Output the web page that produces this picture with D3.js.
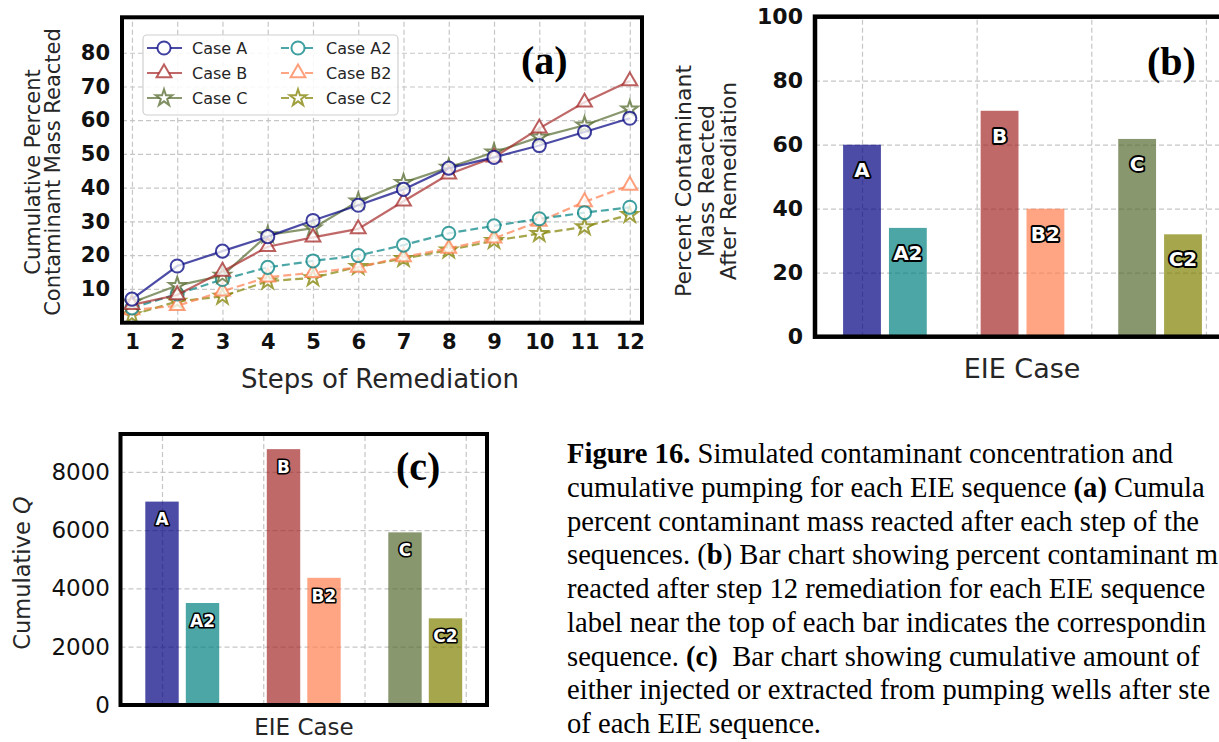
<!DOCTYPE html>
<html>
<head>
<meta charset="UTF-8">
<title>Figure 16</title>
<script src="https://d3js.org/d3.v7.min.js"></script>
<style>
  body { margin: 0; background: #fff; }
  svg { display: block; }
  .grid line { stroke: #c6c6c6; stroke-dasharray: 5,3; stroke-width: 1.2; }
  .lbl { font-family: "DejaVu Sans", sans-serif; fill: #262626; }
  .tag { font-family: "Liberation Serif", "Times New Roman", serif; font-weight: bold; fill: #000; }
  .caption { font-family: "Liberation Serif", "Times New Roman", serif; font-size: 28.6px; fill: #000; white-space: pre; }
  .barlbl { font-family: "DejaVu Sans", sans-serif; font-weight: bold; fill: #fff; stroke: #000; paint-order: stroke; stroke-linejoin: round; }
</style>
</head>
<body>
<script>

// ---- data, panel (a)
var steps = [1, 2, 3, 4, 5, 6, 7, 8, 9, 10, 11, 12];
var caseA  = [7.0, 16.8, 21.2, 25.5, 30.3, 34.8, 39.5, 45.8, 49.0, 52.5, 56.5, 60.6];
var caseB  = [5.3, 8.2, 15.2, 22.5, 25.3, 27.8, 36.0, 44.0, 49.0, 57.6, 65.3, 71.6];
var caseC  = [6.0, 11.0, 14.0, 26.0, 28.0, 36.0, 41.5, 46.0, 50.5, 55.0, 58.5, 63.3];
var caseA2 = [4.4, 8.5, 12.8, 16.4, 18.3, 19.9, 23.0, 26.5, 28.7, 30.8, 32.6, 34.2];
var caseB2 = [3.8, 5.0, 9.3, 13.5, 14.8, 16.4, 19.5, 22.0, 25.0, 30.0, 35.8, 40.7];
var caseC2 = [2.3, 6.3, 7.8, 12.3, 13.3, 16.6, 19.0, 21.5, 24.3, 26.4, 28.4, 32.0];
var seriesNames = ['Case A', 'Case B', 'Case C', 'Case A2', 'Case B2', 'Case C2'];
var yTicksA = [10, 20, 30, 40, 50, 60, 70, 80];

// ---- data, panels (b) and (c)
var barCases = ['A', 'A2', 'B', 'B2', 'C', 'C2'];
var barPos = [0, 0.4, 1.2, 1.6, 2.4, 2.8];
var percentReacted = [60, 34, 70.6, 40, 61.8, 32];
var cumulativeQ = [6980, 3500, 8780, 4365, 5925, 2975];
var yTicksB = [0, 20, 40, 60, 80, 100];
var yTicksC = [0, 2000, 4000, 6000, 8000];
var gridX = [0, 1, 2, 3];

// style per case
var colors = ['#000080', '#a52a2a', '#556b2f', '#008080', '#ff7f50', '#808000'];
var markers = [d3.symbolCircle, d3.symbolTriangle, d3.symbolStar, d3.symbolCircle, d3.symbolTriangle, d3.symbolStar];
var markerSize = [135, 95, 85, 135, 95, 85];
var barColors = ['#000080', '#008080', '#a52a2a', '#ff7f50', '#556b2f', '#808000'];

var fig = d3.select('body').append('svg').attr('width', 1219).attr('height', 742);

function drawGrid(g, x, y, xVals, yVals, box) {
  g.append('g').attr('class', 'grid').attr('transform', `translate(0,${box.bottom})`)
    .call(d3.axisBottom(x).tickValues(xVals).tickSize(-(box.bottom - box.top)).tickFormat(''))
    .call(s => s.select('.domain').remove());
  g.append('g').attr('class', 'grid').attr('transform', `translate(${box.left},0)`)
    .call(d3.axisLeft(y).tickValues(yVals).tickSize(-(box.right - box.left)).tickFormat(''))
    .call(s => s.select('.domain').remove());
}

function tickLabels(g, axis, transform, size, weight) {
  var a = g.append('g').attr('transform', transform).call(axis);
  a.select('.domain').remove();
  a.selectAll('.tick line').remove();
  a.attr('font-family', '"DejaVu Sans", sans-serif').attr('font-size', size).attr('font-weight', weight);
  a.selectAll('text').attr('fill', '#111');
}

function frame(g, box, w) {
  g.append('rect')
    .attr('x', box.left).attr('y', box.top)
    .attr('width', box.right - box.left).attr('height', box.bottom - box.top)
    .attr('fill', 'none').attr('stroke', '#000').attr('stroke-width', w);
}

function rotLabel(g, txt, cx, cy, size) {
  return g.append('text').attr('class', 'lbl')
    .attr('transform', `translate(${cx},${cy}) rotate(-90)`)
    .attr('text-anchor', 'middle').attr('dy', '0.35em')
    .attr('font-size', size).text(txt);
}

// ================= panel (a) =================
var boxA = { left: 122, right: 642, top: 17.3, bottom: 322.7 };
var xA = d3.scaleLinear().domain([0.78, 12.27]).range([boxA.left, boxA.right]);
var yA = d3.scaleLinear().domain([0, 90.5]).range([boxA.bottom, boxA.top]);
var gA = fig.append('g');

drawGrid(gA, xA, yA, steps, yTicksA, boxA);

var allSeries = [caseA, caseB, caseC, caseA2, caseB2, caseC2];
var line = d3.line().x((d, i) => xA(steps[i])).y(d => yA(d));

// dashed ones first, case A ends on top
[5, 4, 3, 2, 1, 0].forEach(k => {
  var s = gA.append('g');
  s.append('path')
    .attr('d', line(allSeries[k]))
    .attr('fill', 'none')
    .attr('stroke', colors[k]).attr('stroke-opacity', 0.7)
    .attr('stroke-width', 2.2)
    .attr('stroke-dasharray', k > 2 ? '8,4' : null);
  s.selectAll('path.m')
    .data(allSeries[k])
    .join('path')
    .attr('class', 'm')
    .attr('transform', (d, i) => `translate(${xA(steps[i])},${yA(d)})`)
    .attr('d', d3.symbol().type(markers[k]).size(markerSize[k]))
    .attr('fill', '#fff').attr('fill-opacity', 0.75)
    .attr('stroke', colors[k]).attr('stroke-opacity', 0.75)
    .attr('stroke-width', 2);
});

tickLabels(gA, d3.axisBottom(xA).tickValues(steps).tickSize(0).tickPadding(11),
  `translate(0,${boxA.bottom})`, 21, 'bold');
tickLabels(gA, d3.axisLeft(yA).tickValues(yTicksA).tickSize(0).tickPadding(12),
  `translate(${boxA.left},0)`, 21, 'bold');

// legend
var leg = gA.append('g');
leg.append('rect').attr('x', 143).attr('y', 35).attr('width', 255).attr('height', 80)
  .attr('rx', 4).attr('fill', '#fff').attr('fill-opacity', 0.85)
  .attr('stroke', '#d0d0d0').attr('stroke-width', 1.2);
var legRows = [48, 73, 98];
var legCols = [147, 281];
seriesNames.forEach((name, k) => {
  var lx = legCols[Math.floor(k / 3)], ly = legRows[k % 3];
  leg.append('line').attr('x1', lx).attr('x2', lx + 35).attr('y1', ly).attr('y2', ly)
    .attr('stroke', colors[k]).attr('stroke-opacity', 0.7).attr('stroke-width', 2.2)
    .attr('stroke-dasharray', k > 2 ? '8,4' : null);
  leg.append('path')
    .attr('transform', `translate(${lx + 17},${ly})`)
    .attr('d', d3.symbol().type(markers[k]).size(markerSize[k]))
    .attr('fill', '#fff').attr('stroke', colors[k]).attr('stroke-opacity', 0.75).attr('stroke-width', 2);
  leg.append('text').attr('class', 'lbl').attr('x', lx + 45).attr('y', ly).attr('dy', '0.36em')
    .attr('font-size', 16).attr('fill', '#3a3a3a').text(name);
});

frame(gA, boxA, 4);
gA.append('text').attr('class', 'tag').attr('x', 521).attr('y', 74).attr('font-size', 40).text('(a)');
gA.append('text').attr('class', 'lbl').attr('x', 380).attr('y', 388).attr('text-anchor', 'middle')
  .attr('font-size', 26).text('Steps of Remediation');
rotLabel(gA, 'Cumulative Percent', 33, 172, 21);
rotLabel(gA, 'Contaminant Mass Reacted', 53, 172, 21);

// ================= bar panels =================
function barPanel(box, yDomain, yTicks, values, labelOffset, opts) {
  var g = fig.append('g');
  var x = d3.scaleLinear().domain([-0.41, 3.21]).range([box.left, box.right]);
  var y = d3.scaleLinear().domain(yDomain).range([box.bottom, box.top]);
  drawGrid(g, x, y, gridX, yTicks.filter(v => v > yDomain[0]), box);
  var bw = 0.33;
  g.selectAll('rect.bar')
    .data(values)
    .join('rect')
    .attr('class', 'bar')
    .attr('x', (d, i) => x(barPos[i] - bw / 2))
    .attr('width', x(bw) - x(0))
    .attr('y', d => y(d))
    .attr('height', d => y(0) - y(d))
    .attr('fill', (d, i) => barColors[i]).attr('fill-opacity', 0.7);
  g.selectAll('text.barlbl')
    .data(values)
    .join('text')
    .attr('class', 'barlbl')
    .attr('x', (d, i) => x(barPos[i]))
    .attr('y', d => y(d - labelOffset))
    .attr('dy', '0.36em')
    .attr('text-anchor', 'middle')
    .attr('font-size', opts.barFont)
    .attr('stroke-width', opts.barStroke)
    .text((d, i) => barCases[i]);
  tickLabels(g, d3.axisLeft(y).tickValues(yTicks).tickFormat(d3.format('d')).tickSize(0).tickPadding(opts.pad),
    `translate(${box.left},0)`, opts.tickFont, opts.tickWeight);
  frame(g, box, opts.frameW);
  return g;
}

// panel (b)
var boxB = { left: 815, right: 1230, top: 16.7, bottom: 336.7 };
var gB = barPanel(boxB, [0, 100], yTicksB, percentReacted, 7.8,
  { barFont: 20, barStroke: 3.8, pad: 12, tickFont: 22, tickWeight: 'bold', frameW: 4.5 });
gB.append('text').attr('class', 'tag').attr('x', 1147).attr('y', 75).attr('font-size', 40).text('(b)');
gB.append('text').attr('class', 'lbl').attr('x', 1022).attr('y', 378).attr('text-anchor', 'middle')
  .attr('font-size', 27).text('EIE Case');
rotLabel(gB, 'Percent Contaminant', 683, 181, 22);
rotLabel(gB, 'Mass Reacted', 706, 181, 22);
rotLabel(gB, 'After Remediation', 728, 181, 22);

// panel (c)
var boxC = { left: 120.5, right: 487, top: 434, bottom: 705 };
var gC = barPanel(boxC, [0, 9300], yTicksC, cumulativeQ, 610,
  { barFont: 17, barStroke: 3.2, pad: 10.5, tickFont: 23, tickWeight: 'normal', frameW: 4 });
gC.append('text').attr('class', 'tag').attr('x', 396).attr('y', 480).attr('font-size', 40).text('(c)');
gC.append('text').attr('class', 'lbl').attr('x', 304).attr('y', 735).attr('text-anchor', 'middle')
  .attr('font-size', 23).text('EIE Case');
var yc = rotLabel(gC, 'Cumulative ', 22, 573, 22.5);
yc.append('tspan').attr('font-style', 'italic').text('Q');

// ================= caption (cropped at the right edge, as in the source) =================
var captionLines = [
  [['Figure 16.', true], [' Simulated contaminant concentration and', false]],
  [['cumulative pumping for each EIE sequence ', false], ['(a)', true], [' Cumula', false]],
  [['percent contaminant mass reacted after each step of the', false]],
  [['sequences. (', false], ['b', true], [') Bar chart showing percent contaminant m', false]],
  [['reacted after step 12 remediation for each EIE sequence', false]],
  [['label near the top of each bar indicates the correspondin', false]],
  [['sequence. ', false], ['(c)', true], ['  Bar chart showing cumulative amount of', false]],
  [['either injected or extracted from pumping wells after ste', false]],
  [['of each EIE sequence.', false]]
];
var cap = fig.append('g');
captionLines.forEach((segs, i) => {
  var t = cap.append('text').attr('class', 'caption').attr('x', 567).attr('y', 463 + i * 33.75);
  segs.forEach(s => {
    t.append('tspan').attr('font-weight', s[1] ? 'bold' : null).text(s[0]);
  });
});

</script>
</body>
</html>
